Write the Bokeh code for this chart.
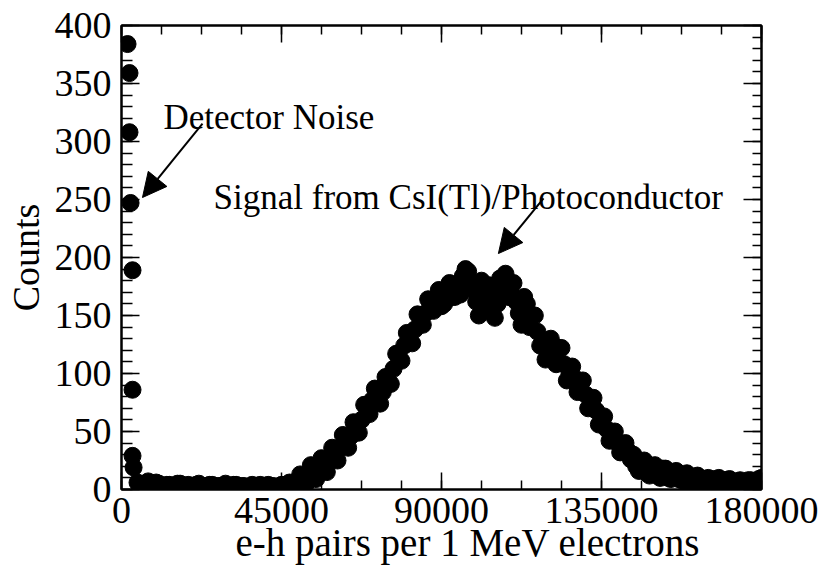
from bokeh.plotting import figure
from bokeh.models import (LinearAxis, FixedTicker, Label, Arrow, NormalHead, Title,
                          Range1d, ColumnDataSource, BasicTickFormatter)
from bokeh.embed import file_html
from bokeh.resources import INLINE

FONT = "Liberation Serif"

# Detector noise counts in the first few channels
noise_x = [1700, 2250, 2250, 2550, 3100, 3100, 3100, 3400]
noise_y = [384, 359, 308, 247, 189, 86, 29, 19]

# Pulse-height spectrum, run A: channels of 1500 e-h pairs starting at 4500
run_a_start = 4500
run_a_y = [
    6, 4, 7, 3, 5, 2, 4, 3, 5, 3, 2, 4, 3, 2, 4, 3, 2, 3, 4, 2,
    3, 2, 3, 4, 2, 3, 2, 4, 3, 5, 6, 9, 11, 14, 18, 20, 26, 30, 36, 42,
    46, 54, 60, 70, 77, 80, 84, 94, 104, 114, 124, 130, 138, 148, 152, 160, 164, 158, 170, 166,
    176, 184, 188, 172, 150, 168, 176, 148, 182, 186, 170, 162, 142, 160, 150, 136, 128, 126, 118, 122,
    108, 100, 96, 90, 82, 74, 68, 58, 52, 46, 40, 36, 33, 30, 16, 25, 12, 21, 10, 18,
    9, 16, 8, 14, 7, 12, 6, 10, 9, 10, 8, 9, 7, 8, 6, 8, 7, 10,
]
# Run B: same channel width, starting at 5250
run_b_start = 5250
run_b_y = [
    3, 5, 2, 6, 3, 4, 2, 5, 3, 4, 2, 5, 3, 4, 2, 3, 5, 2, 4, 3,
    2, 4, 3, 2, 4, 3, 2, 4, 6, 3, 13, 4, 21, 9, 27, 15, 36, 25, 47, 36,
    58, 49, 73, 65, 87, 74, 97, 91, 117, 111, 135, 126, 151, 142, 164, 154, 172, 160, 178, 166,
    168, 190, 178, 162, 180, 156, 170, 160, 176, 166, 178, 152, 166, 140, 150, 124, 112, 130, 108, 122,
    94, 106, 84, 94, 70, 79, 56, 63, 42, 50, 32, 40, 26, 20, 24, 14, 20, 12, 18, 10,
    14, 9, 12, 6, 10, 7, 9, 5, 8, 6, 8, 4, 7, 5, 8, 6, 9,
]
bin_width = 1500
run_a_x = [run_a_start + bin_width * i for i in range(len(run_a_y))]
run_b_x = [run_b_start + bin_width * i for i in range(len(run_b_y))]

x_major = [0, 45000, 90000, 135000, 180000]
x_minor = [11250 * i for i in range(17)]
y_major = [0, 50, 100, 150, 200, 250, 300, 350, 400]
y_minor = [10 * i for i in range(41)]

src = ColumnDataSource(dict(x=noise_x + run_a_x + run_b_x,
                            y=noise_y + run_a_y + run_b_y))

p = figure(width=823, height=574, output_backend="svg", toolbar_location=None,
           x_range=Range1d(0, 180000), y_range=Range1d(0, 400),
           min_border_left=121, min_border_right=62,
           min_border_top=25, min_border_bottom=85)
p.xgrid.visible = False
p.ygrid.visible = False
p.outline_line_color = "black"
p.outline_line_width = 2
p.background_fill_color = "white"
p.border_fill_color = "white"

p.scatter("x", "y", source=src, size=17, fill_color="black", line_color="black")


def style(axis, ticks, minors, major_len, minor_len, show_labels):
    axis.ticker = FixedTicker(ticks=ticks, minor_ticks=minors)
    axis.formatter = BasicTickFormatter(use_scientific=False)
    axis.axis_line_color = "black"
    axis.axis_line_width = 2
    axis.major_tick_line_color = "black"
    axis.minor_tick_line_color = "black"
    axis.major_tick_line_width = 1.5
    axis.minor_tick_line_width = 1.5
    axis.major_tick_in = major_len
    axis.major_tick_out = 0
    axis.minor_tick_in = minor_len
    axis.minor_tick_out = 0
    axis.major_label_text_font = FONT
    axis.major_label_text_color = "black"
    if show_labels:
        axis.major_label_text_font_size = "38px"
        axis.major_label_standoff = 8
    else:
        axis.major_label_overrides = {t: "" for t in ticks}
        axis.major_label_text_font_size = "10px"
        axis.major_label_standoff = 0


style(p.xaxis[0], x_major, x_minor, 17, 9, True)
style(p.yaxis[0], y_major, y_minor, 18, 11, True)
p.yaxis[0].major_label_standoff = 10

top = LinearAxis()
style(top, x_major, x_minor, 17, 9, False)
p.add_layout(top, "above")
right = LinearAxis()
style(right, y_major, y_minor, 18, 9, False)
p.add_layout(right, "right")

# Axis titles
yax = p.yaxis[0]
yax.axis_label = "Counts"
yax.axis_label_text_font = FONT
yax.axis_label_text_font_size = "38px"
yax.axis_label_text_font_style = "normal"
yax.axis_label_text_color = "black"
yax.axis_label_standoff = 5

p.add_layout(Title(text="e-h pairs per 1 MeV electrons", align="left", offset=114,
                   text_font=FONT, text_font_size="39px", text_font_style="normal",
                   text_color="black", standoff=-14), "below")

# Annotations with arrows
p.add_layout(Label(x=11800, y=320.7, text="Detector Noise",
                   text_font=FONT, text_font_size="35px", text_color="black",
                   text_align="left", text_baseline="alphabetic"))
p.add_layout(Arrow(x_start=22780, y_start=315.5, x_end=5900, y_end=251.7,
                   line_color="black", line_width=2,
                   end=NormalHead(size=24, fill_color="black", line_color="black")))

p.add_layout(Label(x=25900, y=251.7, text="Signal from CsI(Tl)/Photoconductor",
                   text_font=FONT, text_font_size="35px", text_color="black",
                   text_align="left", text_baseline="alphabetic"))
p.add_layout(Arrow(x_start=118700, y_start=251, x_end=106000, y_end=203.4,
                   line_color="black", line_width=2,
                   end=NormalHead(size=24, fill_color="black", line_color="black")))

open("out.html", "w").write(file_html(p, INLINE))
